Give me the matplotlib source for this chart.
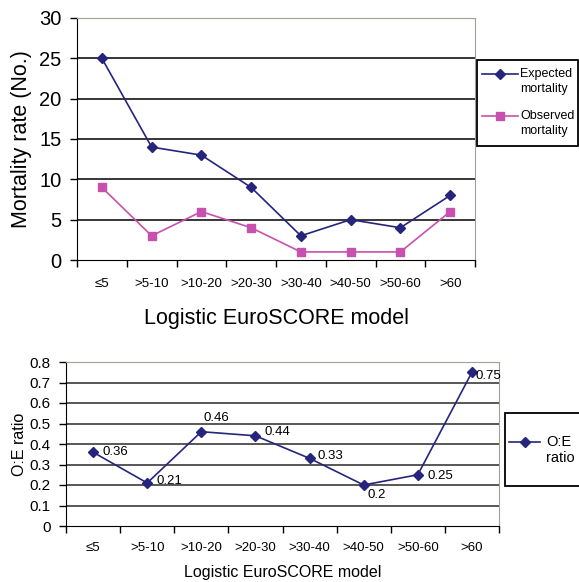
import matplotlib
matplotlib.use("Agg")
import matplotlib.pyplot as plt
from matplotlib.lines import Line2D
from matplotlib.patches import Rectangle
import numpy as np

plt.rcParams['font.family'] = ['Liberation Sans', 'DejaVu Sans']

categories = ["≤5", ">5-10", ">10-20", ">20-30", ">30-40", ">40-50", ">50-60", ">60"]
expected = [25, 14, 13, 9, 3, 5, 4, 8]
observed = [9, 3, 6, 4, 1, 1, 1, 6]
oe_ratio = [0.36, 0.21, 0.46, 0.44, 0.33, 0.2, 0.25, 0.75]
oe_labels = ["0.36", "0.21", "0.46", "0.44", "0.33", "0.2", "0.25", "0.75"]
legend_top = [["Expected", "mortality"], ["Observed", "mortality"]]
legend_bottom = ["O:E", "ratio"]
# label offsets in pixels (dx, dy)
label_off = [(9, 0), (9, 2), (2, 14), (9, 4), (8, 2), (4, -10), (10, -1), (4, -4)]

navy = "#25257d"
magenta = "#c850ae"
border_gray = "#a0a094"

W, H = 579, 582
fig = plt.figure(figsize=(W / 100, H / 100), dpi=100)


def fx(px):
    return px / W


def fy(py):
    return 1 - py / H


x = np.arange(len(categories)) + 0.5

# ---------- Top chart ----------
ax1 = fig.add_axes([fx(77), fy(260), (475 - 77) / W, (260 - 18) / H])
ax1.plot(x, expected, color=navy, lw=1.2, marker='D', ms=5, mfc=navy, mec=navy, zorder=3)
ax1.plot(x, observed, color=magenta, lw=1.2, marker='s', ms=5.5, mfc=magenta, mec=magenta, zorder=3)
ax1.set_xlim(0, len(categories))
ax1.set_ylim(0, 30)
ax1.set_yticks(np.arange(0, 31, 5))
for v in range(5, 30, 5):
    ax1.axhline(v, color='black', lw=1.1, zorder=1)
ax1.set_xticks(np.arange(0, len(categories) + 1))
ax1.set_xticklabels([])
ax1.set_xticks(x, minor=True)
ax1.set_xticklabels(categories, minor=True, fontsize=9.5)
ax1.tick_params(axis='x', which='minor', length=0, pad=13)
ax1.tick_params(axis='x', which='major', length=5, width=1, direction='out')
ax1.tick_params(axis='y', length=5, width=1, direction='out', labelsize=14.5, pad=6)
for s in ['top', 'right']:
    ax1.spines[s].set_color(border_gray)
for s in ['left', 'bottom']:
    ax1.spines[s].set_color('black')
ax1.set_ylabel("Mortality rate (No.)", fontsize=15.5)
ax1.yaxis.set_label_coords(-0.112, 0.5)
ax1.set_xlabel("Logistic EuroSCORE model", fontsize=15.5)
ax1.xaxis.set_label_coords(0.5, -0.2)

# top legend (drawn in figure pixels)
fig.add_artist(Rectangle((fx(477), fy(146)), (578 - 477) / W, (146 - 60) / H,
                         transform=fig.transFigure, facecolor='white',
                         edgecolor='black', lw=1.3))
for (lines, col, mk, ms), yc in zip([(legend_top[0], navy, 'D', 5),
                                      (legend_top[1], magenta, 's', 5.5)], [74, 116]):
    fig.add_artist(Line2D([fx(482), fx(518)], [fy(yc), fy(yc)], color=col, lw=1.2,
                          transform=fig.transFigure))
    fig.add_artist(Line2D([fx(500)], [fy(yc)], color=col, marker=mk, ms=ms,
                          transform=fig.transFigure))
    for i, t in enumerate(lines):
        fig.text(fx(520), fy(yc + 15 * i), t, fontsize=9, ha='left', va='center')

# ---------- Bottom chart ----------
ax2 = fig.add_axes([fx(66), fy(526), (499 - 66) / W, (526 - 362) / H])
ax2.plot(x, oe_ratio, color=navy, lw=1.2, marker='D', ms=5, mfc=navy, mec=navy, zorder=3)
ax2.set_xlim(0, len(categories))
ax2.set_ylim(0, 0.8)
ax2.set_yticks(np.round(np.arange(0, 0.81, 0.1), 1))
ax2.set_yticklabels(["0", "0.1", "0.2", "0.3", "0.4", "0.5", "0.6", "0.7", "0.8"])
for v in np.arange(0.1, 0.75, 0.1):
    ax2.axhline(v, color='#2a2a2a', lw=1.1, zorder=1)
ax2.set_xticks(np.arange(0, len(categories) + 1))
ax2.set_xticklabels([])
ax2.set_xticks(x, minor=True)
ax2.set_xticklabels(categories, minor=True, fontsize=9.5)
ax2.tick_params(axis='x', which='minor', length=0, pad=11.5)
ax2.tick_params(axis='x', which='major', length=5, width=1, direction='out')
ax2.tick_params(axis='y', length=5, width=1, direction='out', labelsize=11, pad=6)
for s in ['top', 'right']:
    ax2.spines[s].set_color(border_gray)
for s in ['left', 'bottom']:
    ax2.spines[s].set_color('black')
ax2.set_ylabel("O:E ratio", fontsize=11.5)
ax2.yaxis.set_label_coords(-0.091, 0.5)
ax2.set_xlabel("Logistic EuroSCORE model", fontsize=11.5)
ax2.xaxis.set_label_coords(0.5, -0.24)

for xi, yi, lab, (dx, dy) in zip(x, oe_ratio, oe_labels, label_off):
    ax2.annotate(lab, (xi, yi), xytext=(dx * 0.72, dy * 0.72), textcoords='offset points',
                 ha='left', va='center', fontsize=9.5, annotation_clip=False, zorder=4)

# bottom legend
fig.add_artist(Rectangle((fx(505), fy(486)), (579.5 - 505) / W, (486 - 413) / H,
                         transform=fig.transFigure, facecolor='white',
                         edgecolor='black', lw=1.3))
fig.add_artist(Line2D([fx(509), fx(540)], [fy(442), fy(442)], color=navy, lw=1.2,
                      transform=fig.transFigure))
fig.add_artist(Line2D([fx(524.5)], [fy(442)], color=navy, marker='D', ms=5,
                      transform=fig.transFigure))
for i, t in enumerate(legend_bottom):
    fig.text(fx(546), fy(442 + 16 * i), t, fontsize=10.5, ha='left', va='center')

fig.savefig("out.png", dpi=100)
